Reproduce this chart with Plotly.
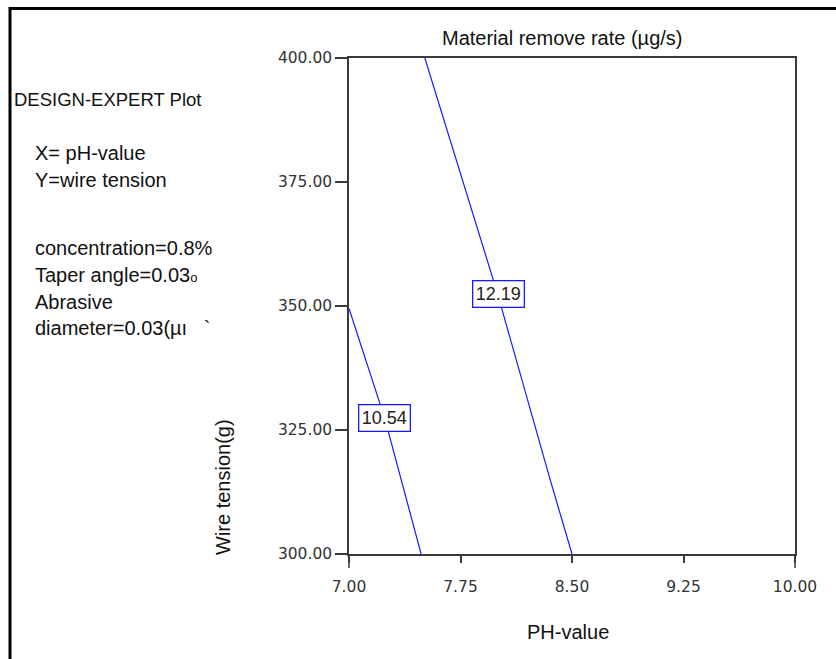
import plotly.graph_objects as go

# Contour levels of material remove rate and the traced iso-lines
levels = [10.54, 12.19]
line_ph = [[7.00, 7.24, 7.485], [7.51, 8.00, 8.354, 8.50]]
line_tension = [[349.5, 327.4, 300.0], [400.0, 352.4, 314.9, 300.0]]
label_pos = [(7.236, 327.4), (8.004, 352.4)]

x_ticks = [7.00, 7.75, 8.50, 9.25, 10.00]
y_ticks = [300.00, 325.00, 350.00, 375.00, 400.00]

factor_notes = [
    ("X= pH-value", 153),
    ("Y=wire tension", 180),
    ("concentration=0.8%", 248),
    ("Taper angle=0.03<span style=\"font-size:13px\">o</span>", 275),
    ("Abrasive", 302),
    ("diameter=0.03(\u00b5\u0131\u00a0\u00a0\u00a0`", 328),
]

W, H = 836, 659
L, R, T, B = 349, 795, 58, 554
pw, ph = R - L, B - T


def px(xp):
    return (xp - L) / pw


def py(yp):
    return (B - yp) / ph


FONT = "Liberation Sans, Arial, sans-serif"
fig = go.Figure()

for xs, ys in zip(line_ph, line_tension):
    fig.add_trace(go.Scatter(x=xs, y=ys, mode="lines",
                             line=dict(color="#1a1aff", width=1.2),
                             hoverinfo="skip", showlegend=False))

annotations = []
for lvl, (lx, ly) in zip(levels, label_pos):
    annotations.append(dict(x=lx, y=ly, xref="x", yref="y", text=f"{lvl:.2f}",
                            showarrow=False, bgcolor="white", bordercolor="#1a1aff",
                            borderwidth=1.3, borderpad=2.5,
                            font=dict(family=FONT, size=18, color="#222")))

annotations.append(dict(x=px(562), y=py(38), xref="paper", yref="paper",
                        text="Material remove rate (\u00b5g/s)", showarrow=False,
                        xanchor="center", yanchor="middle",
                        font=dict(family=FONT, size=20, color="#111")))
annotations.append(dict(x=px(568), y=py(632), xref="paper", yref="paper",
                        text="PH-value", showarrow=False,
                        xanchor="center", yanchor="middle",
                        font=dict(family=FONT, size=20, color="#111")))
annotations.append(dict(x=px(223), y=py(487), xref="paper", yref="paper",
                        text="Wire tension(g)", showarrow=False, textangle=-90,
                        xanchor="center", yanchor="middle",
                        font=dict(family=FONT, size=20, color="#111")))
annotations.append(dict(x=px(12), y=py(99), xref="paper", yref="paper",
                        text="DESIGN-EXPERT Plot", showarrow=False,
                        xanchor="left", yanchor="middle",
                        font=dict(family=FONT, size=18.5, color="#111")))
for txt, yp in factor_notes:
    annotations.append(dict(x=px(33), y=py(yp), xref="paper", yref="paper",
                            text=txt, showarrow=False,
                            xanchor="left", yanchor="middle",
                            font=dict(family=FONT, size=20, color="#111")))

axis_col = "#3a3a3a"
shapes = [
    # outer frame (top and left edges)
    dict(type="line", xref="paper", yref="paper", x0=px(9), x1=px(840),
         y0=py(8.5), y1=py(8.5), line=dict(color="black", width=3)),
    dict(type="line", xref="paper", yref="paper", x0=px(10), x1=px(10),
         y0=py(7), y1=py(665), line=dict(color="black", width=3)),
    # longer end ticks at the plot corners
    dict(type="line", xref="paper", yref="paper", x0=0, x1=0,
         y0=0, y1=py(B + 14), line=dict(color=axis_col, width=1.5)),
    dict(type="line", xref="paper", yref="paper", x0=1, x1=1,
         y0=0, y1=py(B + 14), line=dict(color=axis_col, width=1.5)),
]

tick_font = dict(family="DejaVu Sans, sans-serif", size=15.5, color="#333")

fig.update_layout(
    width=W, height=H,
    margin=dict(l=L, r=W - R, t=T, b=H - B),
    paper_bgcolor="white", plot_bgcolor="white",
    showlegend=False,
    annotations=annotations,
    shapes=shapes,
    xaxis=dict(range=[7, 10], tickvals=x_ticks,
               ticktext=[f"{v:.2f}" for v in x_ticks],
               showgrid=False, zeroline=False, showline=True, mirror=True,
               linecolor=axis_col, linewidth=1.5,
               ticks="outside", ticklen=7, tickwidth=1.5, tickcolor=axis_col,
               ticklabelstandoff=11, tickfont=tick_font),
    yaxis=dict(range=[300, 400], tickvals=y_ticks,
               ticktext=[f"{v:.2f}" for v in y_ticks],
               showgrid=False, zeroline=False, showline=True, mirror=True,
               linecolor=axis_col, linewidth=1.5,
               ticks="outside", ticklen=12, tickwidth=1.5, tickcolor=axis_col,
               tickfont=tick_font),
)

fig.write_html("out.html")
